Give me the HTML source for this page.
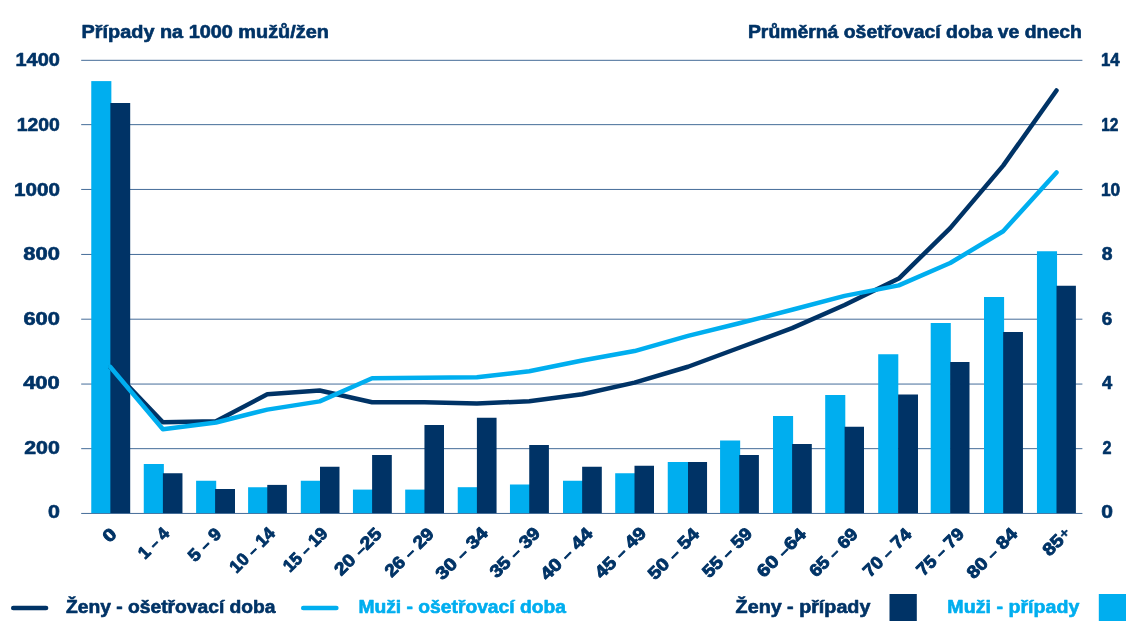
<!DOCTYPE html>
<html lang="cs">
<head>
<meta charset="utf-8">
<title>Případy a ošetřovací doba</title>
<style>
html,body{margin:0;padding:0;background:#fff;}
body{width:1140px;height:641px;overflow:hidden;}
svg{display:block;}
text{font-family:"Liberation Sans",sans-serif;font-weight:bold;font-size:17.5px;stroke-width:0.6;stroke-linejoin:round;}
.d text{font-size:17.5px;}
.pl{font-size:14px;stroke-width:0.3;}
.xl text{stroke-width:0.9;}
.n{fill:#003366;stroke:#003366;}
.c{fill:#00AEEF;stroke:#00AEEF;}
</style>
</head>
<body>
<svg width="1140" height="641" viewBox="0 0 1140 641">
<rect width="1140" height="641" fill="#fff"/>
<g stroke="#14467E" stroke-width="0.8">
<line x1="81.2" y1="513.45" x2="1082.4" y2="513.45"/>
<line x1="81.2" y1="448.67" x2="1082.4" y2="448.67"/>
<line x1="81.2" y1="384.05" x2="1082.4" y2="384.05"/>
<line x1="81.2" y1="319.20" x2="1082.4" y2="319.20"/>
<line x1="81.2" y1="254.45" x2="1082.4" y2="254.45"/>
<line x1="81.2" y1="189.45" x2="1082.4" y2="189.45"/>
<line x1="81.2" y1="124.65" x2="1082.4" y2="124.65"/>
<line x1="81.2" y1="60.32" x2="1082.4" y2="60.32"/>
</g>
<g fill="#00AEEF">
<rect x="91.26" y="81.10" width="20.10" height="432.00"/>
<rect x="143.76" y="464.00" width="20.10" height="49.10"/>
<rect x="196.10" y="480.75" width="20.10" height="32.35"/>
<rect x="248.10" y="487.25" width="20.10" height="25.85"/>
<rect x="300.80" y="480.75" width="20.10" height="32.35"/>
<rect x="352.95" y="489.60" width="20.10" height="23.50"/>
<rect x="405.20" y="489.60" width="20.10" height="23.50"/>
<rect x="457.74" y="487.20" width="20.10" height="25.90"/>
<rect x="509.95" y="484.50" width="20.10" height="28.60"/>
<rect x="563.00" y="480.75" width="20.10" height="32.35"/>
<rect x="615.20" y="473.25" width="20.10" height="39.85"/>
<rect x="667.74" y="462.00" width="20.26" height="51.10"/>
<rect x="720.07" y="440.50" width="20.10" height="72.60"/>
<rect x="773.00" y="416.00" width="20.10" height="97.10"/>
<rect x="825.20" y="395.00" width="20.10" height="118.10"/>
<rect x="878.20" y="354.25" width="20.10" height="158.85"/>
<rect x="930.70" y="323.00" width="20.10" height="190.10"/>
<rect x="984.00" y="297.00" width="20.10" height="216.10"/>
<rect x="1036.95" y="251.25" width="20.10" height="261.85"/>
</g>
<g fill="#003366">
<rect x="110.35" y="103.00" width="19.85" height="410.10"/>
<rect x="162.90" y="473.25" width="19.56" height="39.85"/>
<rect x="215.10" y="489.00" width="19.90" height="24.10"/>
<rect x="267.27" y="484.90" width="19.63" height="28.20"/>
<rect x="320.00" y="466.75" width="19.50" height="46.35"/>
<rect x="372.10" y="455.00" width="19.70" height="58.10"/>
<rect x="424.45" y="425.00" width="19.55" height="88.10"/>
<rect x="476.90" y="417.75" width="19.66" height="95.35"/>
<rect x="529.24" y="445.00" width="19.66" height="68.10"/>
<rect x="582.15" y="466.75" width="19.65" height="46.35"/>
<rect x="634.50" y="465.75" width="19.50" height="47.35"/>
<rect x="688.00" y="462.00" width="19.05" height="51.10"/>
<rect x="739.24" y="455.00" width="19.66" height="58.10"/>
<rect x="792.10" y="444.00" width="19.70" height="69.10"/>
<rect x="844.60" y="426.75" width="19.40" height="86.35"/>
<rect x="898.10" y="394.50" width="19.90" height="118.60"/>
<rect x="950.20" y="362.00" width="19.30" height="151.10"/>
<rect x="1003.17" y="332.00" width="19.78" height="181.10"/>
<rect x="1056.50" y="285.75" width="19.40" height="227.35"/>
</g>
<polyline points="110.35,367.30 162.90,422.30 216.00,421.20 267.30,394.30 319.70,390.50 372.10,402.25 424.45,402.25 476.90,403.50 529.24,401.25 582.15,394.25 634.50,382.60 688.00,366.75 739.24,347.75 792.10,328.10 844.60,305.00 898.80,278.60 950.20,228.10 1003.17,165.60 1056.50,90.50" fill="none" stroke="#003366" stroke-width="4.5" stroke-linecap="round" stroke-linejoin="round"/>
<polyline points="110.35,367.00 162.90,429.30 216.00,422.50 267.30,409.60 319.70,401.40 372.10,378.25 424.45,377.75 476.90,377.25 529.24,371.25 582.15,360.50 634.50,351.05 688.00,335.90 739.24,323.30 792.10,309.80 844.60,295.90 898.80,285.40 950.20,263.00 1003.17,231.25 1056.50,172.50" fill="none" stroke="#00AEEF" stroke-width="4.5" stroke-linecap="round" stroke-linejoin="round"/>
<g class="n d">
<text class="n" x="47.98" y="518.00" textLength="11.89" lengthAdjust="spacingAndGlyphs">0</text>
<text class="n" x="24.16" y="454.00" textLength="35.59" lengthAdjust="spacingAndGlyphs">200</text>
<text class="n" x="23.18" y="389.00" textLength="36.56" lengthAdjust="spacingAndGlyphs">400</text>
<text class="n" x="23.44" y="325.00" textLength="36.47" lengthAdjust="spacingAndGlyphs">600</text>
<text class="n" x="23.36" y="260.00" textLength="36.56" lengthAdjust="spacingAndGlyphs">800</text>
<text class="n" x="14.09" y="196.00" textLength="45.78" lengthAdjust="spacingAndGlyphs">1000</text>
<text class="n" x="16.76" y="131.00" textLength="43.00" lengthAdjust="spacingAndGlyphs">1200</text>
<text class="n" x="15.55" y="66.00" textLength="44.30" lengthAdjust="spacingAndGlyphs">1400</text>
<text class="n" x="1101.37" y="518.00" textLength="11.68" lengthAdjust="spacingAndGlyphs">0</text>
<text class="n" x="1102.40" y="454.00" textLength="9.00" lengthAdjust="spacingAndGlyphs">2</text>
<text class="n" x="1102.08" y="389.00" textLength="10.20" lengthAdjust="spacingAndGlyphs">4</text>
<text class="n" x="1101.68" y="325.00" textLength="10.49" lengthAdjust="spacingAndGlyphs">6</text>
<text class="n" x="1101.69" y="260.00" textLength="10.74" lengthAdjust="spacingAndGlyphs">8</text>
<text class="n" x="1101.01" y="196.00" textLength="19.23" lengthAdjust="spacingAndGlyphs">10</text>
<text class="n" x="1101.17" y="131.00" textLength="17.26" lengthAdjust="spacingAndGlyphs">12</text>
<text class="n" x="1101.04" y="66.00" textLength="18.63" lengthAdjust="spacingAndGlyphs">14</text>
</g>
<text class="n" x="81.59" y="38.00" textLength="247.27" lengthAdjust="spacingAndGlyphs">Případy na 1000 mužů/žen</text>
<text class="n" x="747.91" y="38.00" textLength="333.93" lengthAdjust="spacingAndGlyphs">Průměrná ošetřovací doba ve dnech</text>
<g class="n xl">
<text transform="translate(109.40,543.40) rotate(-45)" textLength="11.80" lengthAdjust="spacingAndGlyphs">0</text>
<text transform="translate(145.05,560.01) rotate(-45)" textLength="36.06" lengthAdjust="spacingAndGlyphs">1 <tspan font-size="14" stroke-width="0.9" dy="-0.2">–</tspan><tspan dy="0.2"> 4</tspan></text>
<text transform="translate(194.93,562.67) rotate(-45)" textLength="39.19" lengthAdjust="spacingAndGlyphs">5 <tspan font-size="14" stroke-width="0.9" dy="-0.2">–</tspan><tspan dy="0.2"> 9</tspan></text>
<text transform="translate(236.62,573.90) rotate(-45)" textLength="55.82" lengthAdjust="spacingAndGlyphs">10 <tspan font-size="14" stroke-width="0.9" dy="-0.2">–</tspan><tspan dy="0.2"> 14</tspan></text>
<text transform="translate(289.99,573.12) rotate(-45)" textLength="54.65" lengthAdjust="spacingAndGlyphs">15 <tspan font-size="14" stroke-width="0.9" dy="-0.2">–</tspan><tspan dy="0.2"> 19</tspan></text>
<text transform="translate(341.29,576.44) rotate(-45)" textLength="58.58" lengthAdjust="spacingAndGlyphs">20 <tspan font-size="14" stroke-width="0.9" dy="-0.2">–</tspan><tspan dy="0.2">25</tspan></text>
<text transform="translate(391.68,578.09) rotate(-45)" textLength="61.02" lengthAdjust="spacingAndGlyphs">26 <tspan font-size="14" stroke-width="0.9" dy="-0.2">–</tspan><tspan dy="0.2"> 29</tspan></text>
<text transform="translate(442.57,580.68) rotate(-45)" textLength="65.47" lengthAdjust="spacingAndGlyphs">30 <tspan font-size="14" stroke-width="0.9" dy="-0.2">–</tspan><tspan dy="0.2"> 34</tspan></text>
<text transform="translate(496.69,578.87) rotate(-45)" textLength="63.02" lengthAdjust="spacingAndGlyphs">35 <tspan font-size="14" stroke-width="0.9" dy="-0.2">–</tspan><tspan dy="0.2"> 39</tspan></text>
<text transform="translate(547.25,581.37) rotate(-45)" textLength="65.84" lengthAdjust="spacingAndGlyphs">40 <tspan font-size="14" stroke-width="0.9" dy="-0.2">–</tspan><tspan dy="0.2"> 44</tspan></text>
<text transform="translate(601.77,579.60) rotate(-45)" textLength="64.44" lengthAdjust="spacingAndGlyphs">45 <tspan font-size="14" stroke-width="0.9" dy="-0.2">–</tspan><tspan dy="0.2"> 49</tspan></text>
<text transform="translate(654.93,580.68) rotate(-45)" textLength="64.39" lengthAdjust="spacingAndGlyphs">50 <tspan font-size="14" stroke-width="0.9" dy="-0.2">–</tspan><tspan dy="0.2"> 54</tspan></text>
<text transform="translate(709.14,578.72) rotate(-45)" textLength="62.41" lengthAdjust="spacingAndGlyphs">55 <tspan font-size="14" stroke-width="0.9" dy="-0.2">–</tspan><tspan dy="0.2"> 59</tspan></text>
<text transform="translate(763.84,578.53) rotate(-45)" textLength="61.14" lengthAdjust="spacingAndGlyphs">60 <tspan font-size="14" stroke-width="0.9" dy="-0.2">–</tspan><tspan dy="0.2">64</tspan></text>
<text transform="translate(816.13,578.08) rotate(-45)" textLength="60.61" lengthAdjust="spacingAndGlyphs">65 <tspan font-size="14" stroke-width="0.9" dy="-0.2">–</tspan><tspan dy="0.2"> 69</tspan></text>
<text transform="translate(869.89,578.02) rotate(-45)" textLength="60.40" lengthAdjust="spacingAndGlyphs">70 <tspan font-size="14" stroke-width="0.9" dy="-0.2">–</tspan><tspan dy="0.2"> 74</tspan></text>
<text transform="translate(923.42,576.85) rotate(-45)" textLength="59.19" lengthAdjust="spacingAndGlyphs">75 <tspan font-size="14" stroke-width="0.9" dy="-0.2">–</tspan><tspan dy="0.2"> 79</tspan></text>
<text transform="translate(973.70,579.69) rotate(-45)" textLength="63.28" lengthAdjust="spacingAndGlyphs">80 <tspan font-size="14" stroke-width="0.9" dy="-0.2">–</tspan><tspan dy="0.2"> 84</tspan></text>
<text transform="translate(1049.40,556.90) rotate(-45) scale(1.13,1)"><tspan>85</tspan><tspan class="pl" dy="-1.60" dx="0.60">+</tspan></text>
</g>
<text class="n" x="66.00" y="613.00" textLength="209.56" lengthAdjust="spacingAndGlyphs">Ženy - ošetřovací doba</text>
<text class="n" x="735.63" y="613.00" textLength="134.75" lengthAdjust="spacingAndGlyphs">Ženy - případy</text>
<text class="c" x="358.44" y="613.00" textLength="207.53" lengthAdjust="spacingAndGlyphs">Muži - ošetřovací doba</text>
<text class="c" x="947.38" y="613.00" textLength="131.92" lengthAdjust="spacingAndGlyphs">Muži - případy</text>
<line x1="13.3" y1="608" x2="46" y2="608" stroke="#003366" stroke-width="4.7" stroke-linecap="round"/>
<line x1="303.3" y1="608" x2="336.3" y2="608" stroke="#00AEEF" stroke-width="4.7" stroke-linecap="round"/>
<rect x="889.5" y="594" width="27.3" height="27" fill="#003366"/>
<rect x="1098.8" y="594" width="27.2" height="27" fill="#00AEEF"/>
</svg>
</body>
</html>
